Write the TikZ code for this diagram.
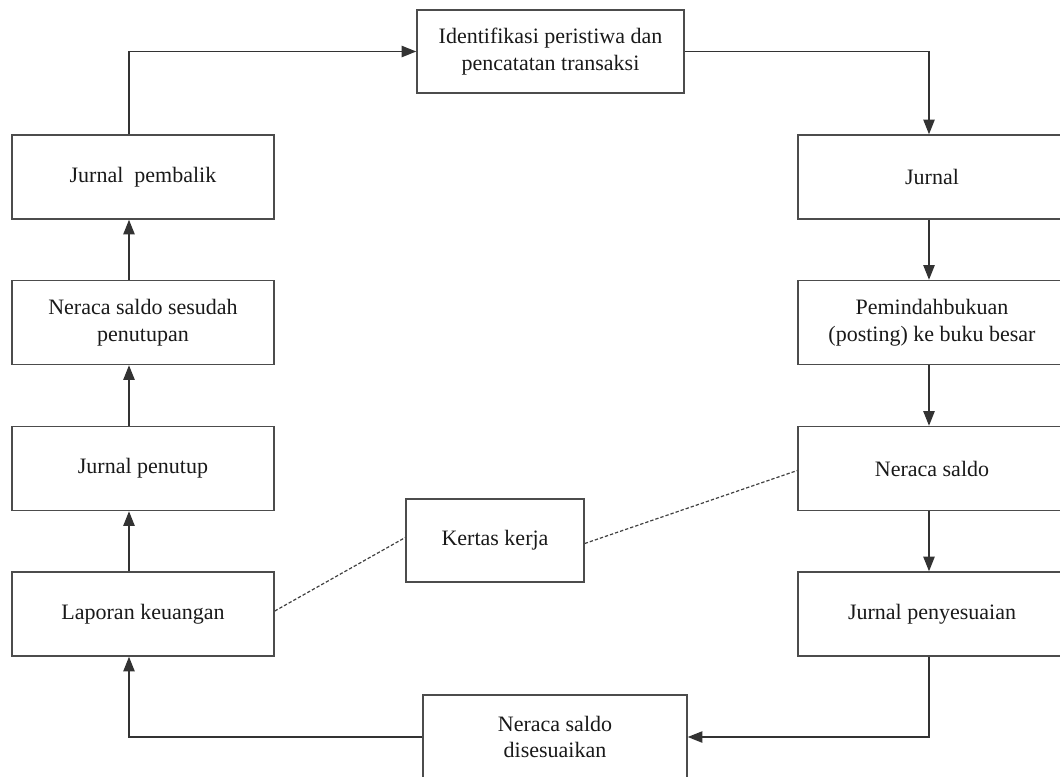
\documentclass[tikz,border=0pt]{standalone}
\usepackage{fontspec}
\setmainfont{Liberation Serif}
\usetikzlibrary{arrows.meta,calc}
\tikzset{
  box/.style={draw=black!70, line width=1.1pt, rectangle, minimum width=262*0.75pt, minimum height=84*0.75pt, align=center, font=\fontsize{16.5}{20}\selectfont, text=black!90, inner sep=0pt},
  rbox/.style={box, minimum width=268*0.75pt},
  flow/.style={draw=black!80, line width=1.1pt, -{Triangle[length=11pt,width=8.5pt]}},
  dotlink/.style={draw=black!75, line width=0.9pt, dash pattern=on 2.5pt off 1.5pt}
}
\begin{document}
\begin{tikzpicture}[x=0.75pt,y=-0.75pt]
\useasboundingbox (0,0) rectangle (1060,776);
\node[box, minimum width=267*0.75pt, minimum height=83*0.75pt] (top) at (550.5,51.5) {Identifikasi peristiwa dan\\pencatatan transaksi};
\node[rbox] (jurnal) at (932,177) {Jurnal};
\node[rbox] (posting) at (932,322.5) {Pemindahbukuan\\(posting) ke buku besar};
\node[rbox] (neraca) at (932,468.5) {Neraca saldo};
\node[rbox] (penyesuaian) at (932,614) {Jurnal penyesuaian};
\node[box, minimum width=264*0.75pt] (disesuaikan) at (555,737) {Neraca saldo\\disesuaikan};
\node[box] (laporan) at (143,614) {Laporan keuangan};
\node[box] (penutup) at (143,468.5) {Jurnal penutup};
\node[box] (sesudah) at (143,322.5) {Neraca saldo sesudah\\penutupan};
\node[box] (pembalik) at (143,177) {Jurnal\ \ pembalik};
\node[box, minimum width=178*0.75pt, minimum height=83*0.75pt] (kertas) at (495,540.5) {Kertas kerja};
\coordinate (lx) at (129,0);
\coordinate (rx) at (929,0);
\draw[flow] (pembalik.north -| lx) |- (top.west);
\draw[flow] (top.east) -| (jurnal.north -| rx);
\draw[flow] (jurnal.south -| rx) -- (posting.north -| rx);
\draw[flow] (posting.south -| rx) -- (neraca.north -| rx);
\draw[flow] (neraca.south -| rx) -- (penyesuaian.north -| rx);
\draw[flow] (penyesuaian.south -| rx) |- (disesuaikan.east);
\draw[flow] (disesuaikan.west) -| (laporan.south -| lx);
\draw[flow] (laporan.north -| lx) -- (penutup.south -| lx);
\draw[flow] (penutup.north -| lx) -- (sesudah.south -| lx);
\draw[flow] (sesudah.north -| lx) -- (pembalik.south -| lx);
\draw[dotlink] ($(laporan.east)+(0,-3)$) -- ($(kertas.west)+(0,-3)$);
\draw[dotlink] ($(kertas.east)+(0,3)$) -- ($(neraca.west)+(0,2)$);
\end{tikzpicture}
\end{document}
